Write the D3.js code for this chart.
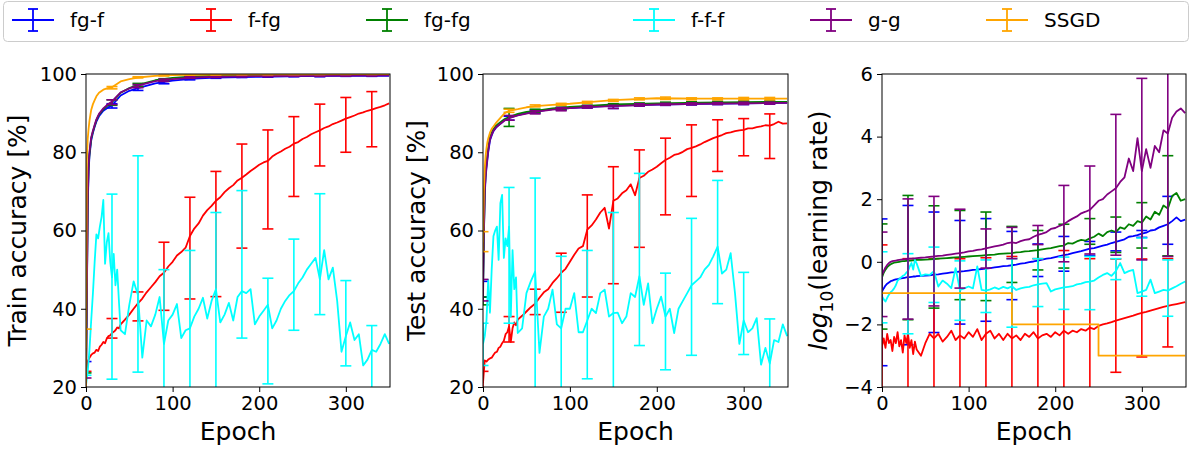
<!DOCTYPE html>
<html lang="en">
<head>
<meta charset="utf-8">
<title>Accuracy and learning rate per epoch</title>
<script src="https://cdn.jsdelivr.net/npm/d3@7/dist/d3.min.js"></script>
<style>
  body { margin: 0; background: #fff; }
  svg { font-family: "DejaVu Sans", sans-serif; }
</style>
</head>
<body>
<script>

// series names and colours (legend order = drawing order)
var seriesNames = ["fg-f", "f-fg", "fg-fg", "f-f-f", "g-g", "SSGD"];
var seriesColors = ["blue", "red", "green", "cyan", "purple", "orange"];

// epoch grids
var epochs = [0,2,4,6,8,10,12,14,16,18,20,22,24,26,28,30,32,34,36,38,40,
  45,50,55,60,65,70,75,80,85,90,
  95,100,105,110,115,120,125,130,135,140,
  145,150,155,160,165,170,175,180,185,190,
  195,200,205,210,215,220,225,230,235,240,
  245,250,255,260,265,270,275,280,285,290,
  295,300,305,310,315,320,325,330,335,340,
  345,350];
var smoothEpochs = [0,1,2,3,4,5,6,8,10,12,15,20,25,30,40,50,60,80,100,125,150,200,250,300,350];
var errEpochs = [0,30,60,90,120,150,180,210,240,270,300,330];
var ssgdLrEpochs = [0,150,150,250,250,350];

// tick labels
var xTicks = [0, 100, 200, 300];
var accTicks = [20, 40, 60, 80, 100];
var lrTicks = [-4, -2, 0, 2, 4, 6];

// ---- train accuracy [%] ----
var trainBlue = [23,43,66,75,79,81,83,85,86.5,87.8,89.2,90.6,91.4,92,94.5,95.7,96.4,97.6,98.3,98.8,99.1,99.3,99.45,99.5,99.55];
var trainGreen = [21,44,67,76,79.5,81.5,83.5,85.3,86.8,88.2,89.6,91,92,92.8,95.2,96.4,97.2,98.4,99,99.4,99.6,99.75,99.8,99.85,99.85];
var trainPurple = [21,45,68,77,80,82,83.8,85.5,87,88.4,89.8,91.2,92.2,93,95.3,96.3,97,98.2,98.7,99.1,99.3,99.45,99.55,99.6,99.65];
var trainOrange = [30,78,83.5,86,88,89.5,90.8,92.3,93.3,94.3,95.2,96,96.4,96.6,98.1,98.7,99.1,99.5,99.7,99.8,99.85,99.9,99.92,99.95,99.95];
var trainRed = [22,26.5,27.5,28.2,28.6,28.8,29.5,29.2,30.3,30.8,31.5,31.2,32.4,33,33.2,33.8,34.1,34.5,35.2,35,36,
  37.2,38.5,40,41.4,42.6,44.2,45.5,46.8,48.3,49.2,
  50.8,52,53.6,54.5,55.6,58.6,60.5,61.8,63.8,65.2,
  66.3,67.6,68.5,69.8,70.8,71.6,72.8,73.5,74.3,75.2,
  76,76.8,77.4,77.8,78.9,79.6,80.2,80.9,81.4,82.2,
  82.6,83.4,83.9,84.6,85.1,85.6,86.2,86.6,87.2,87.6,
  88.1,88.6,89,89.4,89.9,90.2,90.6,90.9,91.3,91.6,
  92,92.5];
var trainCyan = [20.5,24,29.5,37,44,52,59,58,61,63.5,67.8,51.5,57,59.3,52,48,54,46,50,42,34.5,
  33.5,41,47,43.5,27.5,37,35.5,38.5,43,31,
  37,38.5,41.2,32.5,34.5,35,38,40,42.8,37.5,
  42,45,36.5,38.5,41.5,37,43,44.5,44,45,
  36,38,39.5,41,35,37,40,42,43.5,44.5,
  46.5,48,50,51.5,53,47.5,55,47.5,50.5,42,
  29,33,36.5,32,33.5,25.5,27,29.5,29,31,
  33.5,31];

var trainErrBlue = [[18,26.5],[91.3,92.4],[95.8,96.8],[97.5,98.3],[98.5,99.1],[98.9,99.3],[99.1,99.4],[99.2,99.5],[99.3,99.6],[99.3,99.6],[99.4,99.6],[99.4,99.6]];
var trainErrRed = [[19,24],[32.5,37.5],[36.9,44.3],[39.6,57],[42.5,68.5],[43.1,75.1],[55.5,82.1],[60.4,85.7],[68.7,89.1],[76.5,92.3],[80,94],[81.4,95.5]];
var trainErrGreen = [[19,23.6],[92,93.4],[96.8,97.6],[98.2,98.8],[99,99.4],[99.4,99.7],[99.5,99.8],[99.6,99.9],[99.7,99.9],[99.7,99.9],[99.7,99.95],[99.7,99.95]];
var trainErrCyan = [[17,23],[22,69.3],[23.8,79.1],[8,50],[12,54.9],[15,64.6],[32.5,70.2],[20.8,47.8],[34.5,57.8],[38.5,69.4],[25.4,47.2],[10,35.7]];
var trainErrPurple = [[18,22.3],[92.2,93.4],[96.5,97.3],[98.1,98.7],[98.9,99.3],[99.1,99.5],[99.3,99.6],[99.3,99.6],[99.4,99.7],[99.4,99.7],[99.5,99.7],[99.5,99.75]];
var trainErrOrange = [[10,34.8],[96.2,96.8],[99,99.3],[99.5,99.7],[99.7,99.85],[99.8,99.9],[99.85,99.95],[99.85,99.95],[99.9,100],[99.9,100],[99.9,100],[99.9,100]];

// ---- test accuracy [%] ----
var testBlue = [45,59,69,73.5,76,78,80,83,84.3,85.4,86.3,87.3,88.2,88.8,89.5,90,90.4,91,91.3,91.6,91.9,92.2,92.4,92.5,92.6];
var testGreen = [42,58,70,74.5,77,79,81,83.8,85,85.9,86.8,87.7,88.5,89,89.8,90.3,90.6,91.2,91.6,91.9,92.2,92.5,92.7,92.8,92.9];
var testPurple = [45,60,70,74,76.5,78.5,80.5,83.3,84.5,85.5,86.4,87.3,88.1,88.7,89.4,89.9,90.3,90.9,91.3,91.6,91.8,92.2,92.4,92.5,92.6];
var testOrange = [57,70,76,79,81,82.5,83.5,85,86,86.6,87.5,88.8,90,90.6,91,91.5,91.8,92.1,92.4,92.9,93.3,93.8,93.7,93.7,93.7];
var testRed = [21,26.8,26.5,27,27.3,27.5,28.2,28.8,29,30,30.3,31.2,31.8,33.5,34,35.5,31.5,35,36.5,35.8,37.2,
  38.2,39.3,40.4,41.3,42.8,44.2,45,46.6,47.8,49.2,
  50.2,52,53.8,55.4,56,60.2,61.3,62.8,64.6,65.8,
  60.5,67.6,68.2,69.5,70.3,71.8,69,73.4,74,75,
  75.6,76.3,77.2,78,78.6,79.3,79.6,80.1,80.8,81.1,
  81.5,82,82.6,83.1,83.6,84,84.4,84.9,85.1,85.4,
  85.6,85.7,86.1,86.1,86.4,86.6,86.9,86.8,87.2,87.8,
  87.3,87.4];
var testCyan = [31,33,37,47.4,39,50,58.5,60,61,52.5,67,69.1,53,58,56,61,38,55,45,48,33.8,
  35,44,47,49.5,28.7,38,40,44.9,36,35,
  40,40,44,34,34,37,40,38.9,44,44.9,
  38,38.9,39,36.3,38,44,43,48.3,41,46.5,
  36.3,40,43.1,38,40,33.8,40,42,44,46,
  47,48,50,51.2,53.4,55.9,49,50,54.2,44,
  31,37,34,35,37.6,25.7,30,26,32,31.5,
  36,33];

var testErrBlue = [[43,47],[88.2,89.2],[90,90.8],[90.8,91.4],[91.3,91.9],[91.2,92.2],[91.8,92.4],[92,92.5],[92.1,92.6],[92.2,92.7],[92.2,92.8],[92.3,92.8]];
var testErrRed = [[19,24],[31.5,38],[38.5,45],[39.1,54.2],[43,69.1],[46.4,76.3],[55.7,80.6],[64,83.6],[68.7,87],[75.1,88.3],[79.1,88.6],[78.4,89.8]];
var testErrGreen = [[41,43],[86.6,91.2],[90.2,91],[90.9,91.5],[91.5,92],[91.8,92.4],[92.1,92.6],[92.3,92.8],[92.4,92.9],[92.5,93],[92.5,93.1],[92.6,93.1]];
var testErrCyan = [[25.5,36.3],[36.3,71],[5,73.4],[5,53.4],[22.1,54.9],[5,64.6],[30.6,74.6],[24.4,49.1],[28.1,63.1],[41.3,72.8],[28.3,49.3],[5,37.4]];
var testErrPurple = [[42,47.5],[88.2,89.4],[89.8,90.6],[90.6,91.4],[91.3,91.9],[91.2,92],[91.8,92.4],[92,92.5],[92.1,92.6],[92.2,92.7],[92.2,92.8],[92.3,92.8]];
var testErrOrange = [[54.6,59.7],[90.2,91],[91.6,92.1],[92,92.5],[92.5,93],[93,93.5],[93.4,93.9],[93.5,94.1],[93.4,93.9],[93.4,93.9],[93.4,94],[93.4,94]];

// ---- log10(learning rate) ----
var lrBlue = [-0.95,-0.85,-0.76,-0.7,-0.66,-0.62,-0.6,-0.58,-0.56,-0.55,-0.54,-0.53,-0.52,-0.51,-0.5,-0.49,-0.49,-0.48,-0.47,-0.47,-0.46,
  -0.45,-0.44,-0.43,-0.41,-0.4,-0.38,-0.36,-0.34,-0.33,-0.31,
  -0.3,-0.28,-0.26,-0.25,-0.23,-0.22,-0.2,-0.18,-0.16,-0.14,
  -0.13,-0.11,-0.09,-0.06,-0.04,-0.01,0.01,0.04,0.07,0.1,
  0.12,0.15,0.18,0.21,0.24,0.28,0.31,0.34,0.38,0.42,
  0.44,0.48,0.52,0.55,0.6,0.64,0.68,0.72,0.8,0.82,
  0.85,0.9,0.93,1.0,1.02,1.1,1.15,1.2,1.3,1.42,
  1.3,1.35];
var lrRed = [-2.7,-2.45,-2.75,-2.3,-2.6,-2.5,-2.85,-2.4,-2.6,-2.25,-2.7,-2.5,-2.9,-2.35,-2.6,-2.3,-2.75,-2.5,-2.95,-2.55,-2.8,
  -3.0,-2.6,-2.3,-2.45,-2.3,-2.55,-2.4,-2.2,-2.5,-2.35,
  -2.45,-2.25,-2.4,-2.15,-2.5,-2.3,-2.2,-2.45,-2.3,-2.5,
  -2.3,-2.45,-2.35,-2.5,-2.3,-2.4,-2.25,-2.45,-2.35,-2.3,
  -2.4,-2.25,-2.35,-2.2,-2.3,-2.2,-2.25,-2.15,-2.2,-2.1,
  -2.15,-2.05,-2.0,-1.97,-1.93,-1.88,-1.84,-1.8,-1.76,-1.72,
  -1.67,-1.63,-1.6,-1.56,-1.52,-1.48,-1.44,-1.41,-1.38,-1.35,
  -1.32,-1.29];
var lrGreen = [-0.5,-0.35,-0.25,-0.17,-0.12,-0.08,-0.05,-0.03,-0.02,-0.01,0.0,0.01,0.02,0.02,0.03,0.03,0.04,0.04,0.05,0.05,0.06,
  0.06,0.07,0.08,0.09,0.1,0.11,0.12,0.13,0.14,0.15,
  0.16,0.17,0.18,0.19,0.2,0.21,0.22,0.23,0.25,0.26,
  0.27,0.28,0.3,0.31,0.33,0.34,0.36,0.37,0.4,0.42,
  0.44,0.47,0.5,0.52,0.6,0.58,0.65,0.7,0.68,0.75,
  0.8,0.9,0.82,0.95,1.0,0.95,1.1,1.05,1.2,1.15,
  1.3,1.25,1.45,1.35,1.6,1.5,1.8,1.7,2.1,2.2,
  1.95,2.0];
var lrCyan = [-1.1,-1.2,-1.27,-1.15,-1.05,-0.97,-0.92,-0.85,-0.75,-0.6,-0.55,-0.5,-0.45,-0.42,-0.35,-0.3,-0.15,-0.04,-0.25,0.06,-0.05,
  -0.45,-0.4,-0.42,-0.3,-0.79,-0.6,-0.7,-0.84,-0.2,-0.9,
  -0.85,-0.79,-0.85,-0.15,-0.9,-0.92,-0.88,-0.82,-0.87,-0.8,
  -0.85,-0.78,-0.9,-0.85,-0.82,-0.8,-0.75,-0.72,-0.7,-0.68,
  -0.95,-0.88,-0.85,-0.82,-0.8,-0.78,-0.72,-0.7,-0.65,-0.63,
  -0.6,-0.5,-0.42,-0.36,-0.45,-0.3,-0.04,-0.36,-0.3,-0.26,
  -1.0,-0.95,-0.9,-0.57,-1.0,-0.95,-0.9,-0.92,-0.85,-0.78,
  -0.7,-0.63];
var lrPurple = [-0.42,-0.3,-0.18,-0.1,-0.04,0.0,0.02,0.03,0.04,0.05,0.06,0.07,0.08,0.08,0.09,0.09,0.1,0.1,0.11,0.11,0.12,
  0.13,0.14,0.16,0.17,0.19,0.2,0.22,0.24,0.26,0.28,
  0.3,0.33,0.35,0.38,0.4,0.43,0.46,0.49,0.52,0.55,
  0.6,0.62,0.6,0.66,0.7,0.72,0.8,0.86,0.9,0.95,
  1.05,1.08,1.15,1.2,1.3,1.38,1.45,1.55,1.6,1.66,
  1.8,1.95,2.0,2.15,2.25,2.35,2.55,2.7,3.3,2.9,
  3.95,2.9,3.6,3.0,3.7,3.5,4.2,4.1,4.6,4.8,
  4.9,4.75];
var lrOrange = [-1, -1, -2, -2, -3, -3];

var lrErrBlue = [[-3.32,1.37],[-2.65,1.8],[-2.26,1.59],[-1.99,1.32],[-1.9,1.38],[-1.21,0.97],[-0.47,0.57],[-0.3,0.81],[0.2,0.65],[0.35,0.95],[0.78,1.0],[0.56,2.09]];
var lrErrRed = [[-6,0.54],[-6,0.1],[-6,0.1],[-6,0.1],[-6,0.13],[-6,0.17],[-6,0.1],[-6,0.36],[-6,0.1],[-3.53,0.09],[-3.04,0.09],[-2.72,0.1]];
var lrErrGreen = [[-2.15,1.21],[-1.85,2.12],[-1.48,1.79],[-1.21,1.64],[-1.24,1.59],[-0.66,1.13],[-0.26,1.0],[-0.2,1.2],[0.56,1.38],[0.3,1.43],[0.44,1.89],[0.19,3.39]];
var lrErrCyan = [[-1.95,0.32],[-2.3,0.26],[-1.3,0.47],[-1.87,0.03],[-1.62,0.06],[-2.09,0.1],[-1.43,0.1],[-1.52,0.15],[-1.53,0.17],[-0.57,0.1],[-1.1,0.76],[-1.74,0.06]];
var lrErrPurple = [[-1.75,0.95],[-1.83,2.01],[-1.41,2.09],[-0.84,1.68],[-0.2,1.05],[0.1,1.1],[0.55,1.16],[0.0,2.44],[0.25,3.06],[0.21,4.71],[0.06,5.86],[0.17,8.5]];

//Width and height
var w = 1192;
var h = 450;
var plotTop = 74, plotBottom = 387;

// one entry per subplot, series in legend order
var panels = [
  { left: 86, right: 390, yDomain: [20, 100], yTicks: accTicks, labelX: 25.5,
    lines: [[smoothEpochs, trainBlue], [epochs, trainRed], [smoothEpochs, trainGreen],
            [epochs, trainCyan], [smoothEpochs, trainPurple], [smoothEpochs, trainOrange]],
    errs: [trainErrBlue, trainErrRed, trainErrGreen, trainErrCyan, trainErrPurple, trainErrOrange] },
  { left: 483, right: 788, yDomain: [20, 100], yTicks: accTicks, labelX: 425,
    lines: [[smoothEpochs, testBlue], [epochs, testRed], [smoothEpochs, testGreen],
            [epochs, testCyan], [smoothEpochs, testPurple], [smoothEpochs, testOrange]],
    errs: [testErrBlue, testErrRed, testErrGreen, testErrCyan, testErrPurple, testErrOrange] },
  { left: 882, right: 1186, yDomain: [-4, 6], yTicks: lrTicks, labelX: 827,
    lines: [[epochs, lrBlue], [epochs, lrRed], [epochs, lrGreen],
            [epochs, lrCyan], [epochs, lrPurple], [ssgdLrEpochs, lrOrange]],
    errs: [lrErrBlue, lrErrRed, lrErrGreen, lrErrCyan, lrErrPurple, null] }
];

var svg = d3.select("body")
            .append("svg")
            .attr("width", w)
            .attr("height", h);

svg.append("rect").attr("width", w).attr("height", h).attr("fill", "white");

var capHalf = 5.5;

panels.forEach(function(p, pi) {
  var xScale = d3.scaleLinear().domain([0, 351]).range([p.left, p.right]);
  var yScale = d3.scaleLinear().domain(p.yDomain).range([plotBottom, plotTop]);

  var clipId = "clip" + pi;
  svg.append("clipPath").attr("id", clipId)
     .append("rect")
     .attr("x", p.left).attr("y", plotTop)
     .attr("width", p.right - p.left).attr("height", plotBottom - plotTop);

  var g = svg.append("g").attr("clip-path", "url(#" + clipId + ")");

  p.lines.forEach(function(s, si) {
    var xs = s[0], ys = s[1];
    var color = seriesColors[si];
    var pts = ys.map(function(v, i) { return [xs[i], v]; });

    var line = d3.line()
                 .x(function(d) { return xScale(d[0]); })
                 .y(function(d) { return yScale(d[1]); });

    g.append("path")
     .datum(pts)
     .attr("d", line)
     .attr("fill", "none")
     .attr("stroke", color)
     .attr("stroke-width", 1.8)
     .attr("stroke-linejoin", "round");

    var err = p.errs[si];
    if (!err) return;
    var eb = g.append("g").attr("stroke", color).attr("stroke-width", 1.6).attr("fill", "none");
    err.forEach(function(r, i) {
      var x = xScale(errEpochs[i]);
      eb.append("line").attr("x1", x).attr("x2", x)
        .attr("y1", yScale(r[0])).attr("y2", yScale(r[1]));
      eb.append("line").attr("x1", x - capHalf).attr("x2", x + capHalf)
        .attr("y1", yScale(r[0])).attr("y2", yScale(r[0]));
      eb.append("line").attr("x1", x - capHalf).attr("x2", x + capHalf)
        .attr("y1", yScale(r[1])).attr("y2", yScale(r[1]));
    });
  });

  // frame
  svg.append("rect")
     .attr("x", p.left).attr("y", plotTop)
     .attr("width", p.right - p.left).attr("height", plotBottom - plotTop)
     .attr("fill", "none").attr("stroke", "#000").attr("stroke-width", 1);

  // axes
  var xAxis = d3.axisBottom(xScale).tickValues(xTicks).tickSize(5).tickPadding(4);
  var yAxis = d3.axisLeft(yScale).tickValues(p.yTicks).tickSize(5).tickPadding(4)
                .tickFormat(function(d) { return d < 0 ? "\u2212" + Math.abs(d) : d; });

  var gx = svg.append("g").attr("transform", "translate(0," + plotBottom + ")").call(xAxis);
  var gy = svg.append("g").attr("transform", "translate(" + p.left + ",0)").call(yAxis);
  [gx, gy].forEach(function(a) {
    a.select(".domain").remove();
    a.selectAll("line").attr("stroke", "#000");
    a.selectAll("text").attr("font-size", "19.5px").attr("font-family", "DejaVu Sans").attr("fill", "#000");
  });

  // x label
  svg.append("text")
     .attr("x", (p.left + p.right) / 2).attr("y", 440)
     .attr("text-anchor", "middle")
     .attr("font-size", "25px")
     .text("Epoch");

  // y label
  var yl = svg.append("text")
     .attr("transform", "translate(" + p.labelX + "," + (plotTop + plotBottom) / 2 + ") rotate(-90)")
     .attr("text-anchor", "middle")
     .attr("font-size", "25px");
  if (pi === 0) yl.text("Train accuracy [%]");
  if (pi === 1) yl.text("Test accuracy [%]");
  if (pi === 2) {
    yl.append("tspan").attr("font-style", "italic").text("log");
    yl.append("tspan").attr("font-size", "17px").attr("dy", 6).text("10");
    yl.append("tspan").attr("dy", -6).text("(learning rate)");
  }
});

// legend
var legendX = [12, 190, 366, 633, 810, 986];
svg.append("rect")
   .attr("x", 3.5).attr("y", 1.5).attr("width", 1185).attr("height", 40)
   .attr("rx", 4).attr("fill", "white").attr("stroke", "#cccccc").attr("stroke-width", 1);

seriesNames.forEach(function(name, i) {
  var x0 = legendX[i];
  var c = seriesColors[i];
  var lg = svg.append("g").attr("stroke", c).attr("stroke-width", 1.8);
  lg.append("line").attr("x1", x0).attr("x2", x0 + 42).attr("y1", 20).attr("y2", 20);
  lg.append("line").attr("x1", x0 + 21).attr("x2", x0 + 21).attr("y1", 9).attr("y2", 31);
  lg.append("line").attr("x1", x0 + 16).attr("x2", x0 + 26).attr("y1", 9).attr("y2", 9);
  lg.append("line").attr("x1", x0 + 16).attr("x2", x0 + 26).attr("y1", 31).attr("y2", 31);
  svg.append("text")
     .attr("x", x0 + 58).attr("y", 27)
     .attr("font-size", "20px")
     .text(name);
});

</script>
</body>
</html>
